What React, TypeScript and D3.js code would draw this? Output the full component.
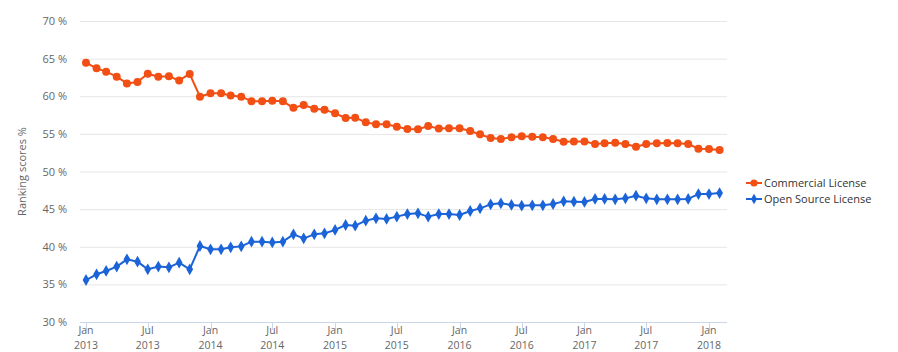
import { useEffect, useRef } from "react"
import * as d3 from "d3"

const W = 898
const H = 352
const FONT = "'Open Sans', 'DejaVu Sans', sans-serif"

const commercial = [
  64.46, 63.71, 63.27, 62.6, 61.7, 61.9, 63.0, 62.6, 62.65, 62.1, 62.96, 59.94,
  60.39, 60.39, 60.1, 59.94, 59.35, 59.35, 59.41, 59.33, 58.46, 58.84, 58.35, 58.22,
  57.73, 57.11, 57.15, 56.53, 56.27, 56.27, 55.95, 55.65, 55.6, 56.05, 55.7, 55.74,
  55.74, 55.38, 54.94, 54.45, 54.32, 54.54, 54.67, 54.63, 54.54, 54.32, 53.95, 54.0,
  54.0, 53.65, 53.74, 53.83, 53.65, 53.3, 53.65, 53.74, 53.78, 53.74, 53.65, 53.03,
  52.99, 52.86,
]
const openSource = [
  35.58, 36.34, 36.78, 37.36, 38.33, 38.02, 37.0, 37.36, 37.27, 37.89, 37.0, 40.1,
  39.66, 39.66, 39.93, 40.05, 40.67, 40.67, 40.58, 40.68, 41.65, 41.12, 41.65, 41.78,
  42.23, 42.89, 42.8, 43.47, 43.78, 43.69, 44.0, 44.35, 44.44, 44.0, 44.35, 44.35,
  44.22, 44.75, 45.1, 45.64, 45.77, 45.55, 45.46, 45.5, 45.5, 45.68, 46.03, 45.99,
  45.95, 46.35, 46.35, 46.3, 46.43, 46.78, 46.43, 46.3, 46.3, 46.3, 46.35, 47.0,
  47.0, 47.14,
]
const months = d3.timeMonth.range(new Date(2013, 0, 1), new Date(2018, 2, 1))
const yTicks = [30, 35, 40, 45, 50, 55, 60, 65, 70]
const xTicks = d3.timeMonth.range(new Date(2013, 0, 1), new Date(2018, 1, 1), 6)
const seriesNames = ["Commercial License", "Open Source License"]
const colors = ["#f24f14", "#1b63d8"]

export default function App() {
  const ref = useRef<SVGSVGElement>(null)
  useEffect(() => {
    if (!ref.current) return
    const svg = d3.select(ref.current)
    svg.selectAll("*").remove()
    const left = 80, right = 727, top = 21, bottom = 322
    const x = d3.scaleTime().domain([new Date(2013, 0, 1), new Date(2018, 0, 1)]).range([86, 709])
    const y = d3.scaleLinear().domain([30, 70]).range([bottom, top])

    // grid
    svg.append("g").selectAll("line").data(yTicks.slice(1)).join("line")
      .attr("x1", left).attr("x2", right)
      .attr("y1", d => y(d) + 0.5).attr("y2", d => y(d) + 0.5)
      .attr("stroke", "#e6e6e6").attr("stroke-width", 1)
    svg.append("g").selectAll("text").data(yTicks).join("text")
      .attr("x", 67).attr("y", d => y(d) + 4)
      .attr("text-anchor", "end").style("font-family", FONT).style("font-size", "11px")
      .style("fill", "#666").text(d => `${d} %`)
    svg.append("text").attr("transform", `translate(26,${(top + bottom) / 2}) rotate(-90)`)
      .attr("text-anchor", "middle").style("font-family", FONT).style("font-size", "11px")
      .style("fill", "#666").text("Ranking scores %")

    // x axis
    svg.append("line").attr("x1", left).attr("x2", right).attr("y1", bottom + 0.5).attr("y2", bottom + 0.5)
      .attr("stroke", "#ccd6eb").attr("stroke-width", 1)
    svg.append("g").selectAll("line").data(xTicks).join("line")
      .attr("x1", d => Math.round(x(d)) + 0.5).attr("x2", d => Math.round(x(d)) + 0.5)
      .attr("y1", bottom).attr("y2", bottom + 8)
      .attr("stroke", "#ccd6eb")
    const fmtM = d3.timeFormat("%b"), fmtY = d3.timeFormat("%Y")
    const xg = svg.append("g").style("font-family", FONT).style("font-size", "10.5px").style("fill", "#666")
    xg.selectAll("text.m").data(xTicks).join("text").attr("class", "m")
      .attr("text-anchor", "middle").attr("x", d => x(d)).attr("y", 334).text(d => fmtM(d))
    xg.selectAll("text.y").data(xTicks).join("text").attr("class", "y")
      .attr("text-anchor", "middle").attr("x", d => x(d)).attr("y", 349).text(d => fmtY(d))

    // series
    const all = [commercial, openSource]
    all.forEach((vals, si) => {
      const pts = vals.map((v, i) => [x(months[i]), y(v)] as [number, number])
      svg.append("path").attr("d", d3.line()(pts)).attr("fill", "none")
        .attr("stroke", colors[si]).attr("stroke-width", 2).attr("stroke-linejoin", "round")
      const sym = d3.symbol().type(si === 0 ? d3.symbolCircle : d3.symbolDiamond).size(si === 0 ? 50 : 40)
      svg.append("g").selectAll("path").data(pts).join("path")
        .attr("transform", d => `translate(${d[0]},${d[1]})`)
        .attr("d", sym()).attr("fill", colors[si])
    })

    // legend
    seriesNames.forEach((name, i) => {
      const ly = 183 + i * 16
      const g = svg.append("g").attr("transform", `translate(746,${ly})`)
      g.append("line").attr("x1", 0).attr("x2", 16).attr("y1", 0).attr("y2", 0)
        .attr("stroke", colors[i]).attr("stroke-width", 2)
      g.append("path").attr("transform", "translate(8,0)")
        .attr("d", d3.symbol().type(i === 0 ? d3.symbolCircle : d3.symbolDiamond).size(i === 0 ? 40 : 32)())
        .attr("fill", colors[i])
      g.append("text").attr("x", 18).attr("y", 4).style("font-family", FONT).style("font-size", "11px")
        .style("fill", "#333").text(name)
    })
  }, [])
  return (
    <div style={{ position: "fixed", left: 0, top: 0 }}>
      <svg ref={ref} width={W} height={H} style={{ display: "block", background: "#fff" }} />
    </div>
  )
}
